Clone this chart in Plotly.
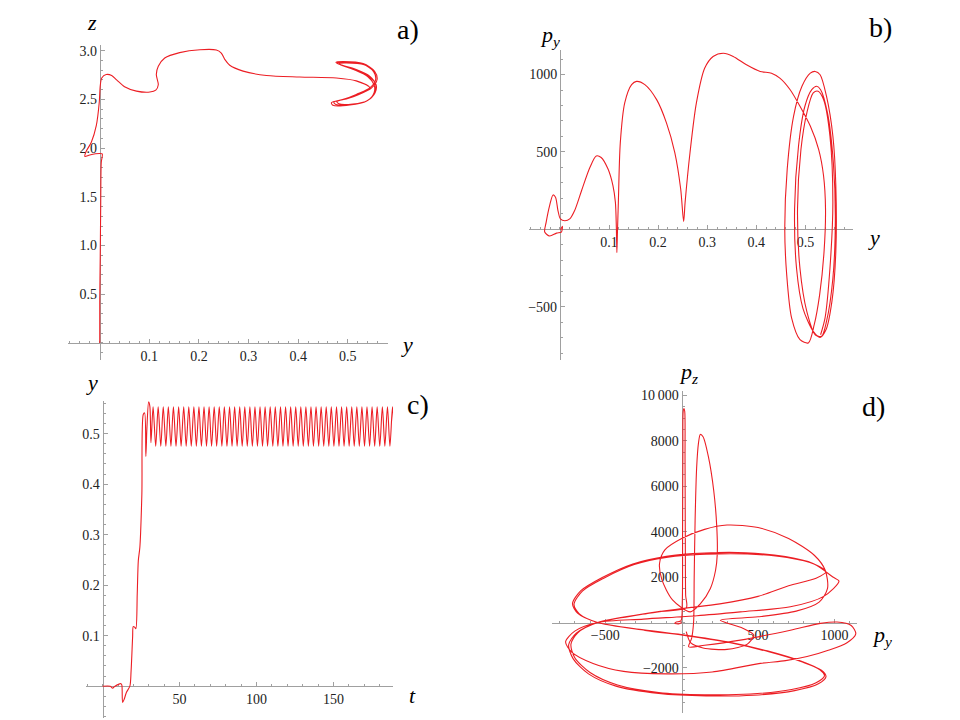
import plotly.graph_objects as go

LINE_COLOR = 'rgb(236, 30, 36)'
AXIS_COLOR = '#a0a0a0'
TICK_FONT = dict(family='Liberation Serif', size=14, color='#222222')
LABEL_FONT = dict(family='Liberation Serif', size=22, color='black')
PANEL_FONT = dict(family='Liberation Serif', size=28, color='black')
W, H = 960, 720

# ---- a) z versus y ----
a_y = [0, 0, 0.001, 0.002, 0.003, 0.005, 0, -0.020, -0.030, -0.028,
       -0.017, -0.007, -0.001, 0.001, 0.004, 0.013, 0.024, 0.034, 0.050, 0.074,
       0.101, 0.113, 0.118, 0.114, 0.118, 0.131, 0.161, 0.202, 0.235, 0.245,
       0.252, 0.262, 0.289, 0.336, 0.403, 0.477, 0.517, 0.544,
       0.517, 0.491, 0.467, 0.470, 0.504, 0.538, 0.554, 0.556, 0.544, 0.517,
       0.484, 0.476, 0.491, 0.531, 0.554, 0.559, 0.548,
       0.520, 0.497, 0.478, 0.482, 0.510, 0.540, 0.553, 0.553, 0.540, 0.515,
       0.490, 0.482, 0.497, 0.533, 0.552, 0.556, 0.546,
       0.518, 0.493, 0.472, 0.476, 0.507, 0.539, 0.555, 0.557, 0.542, 0.516,
       0.487, 0.479, 0.494, 0.532, 0.553]
a_z = [0, 0.425, 0.90, 1.45, 1.85, 1.94, 1.945, 1.93, 1.915, 1.96,
       2.06, 2.23, 2.47, 2.64, 2.72, 2.755, 2.745, 2.70, 2.63, 2.585,
       2.575, 2.595, 2.65, 2.755, 2.84, 2.925, 2.98, 3.01, 3.007, 2.976,
       2.91, 2.85, 2.79, 2.745, 2.73, 2.72, 2.69, 2.62,
       2.551, 2.500, 2.466, 2.439, 2.442, 2.483, 2.568, 2.653, 2.738, 2.806,
       2.857, 2.881, 2.888, 2.867, 2.789, 2.704, 2.619,
       2.545, 2.505, 2.478, 2.455, 2.452, 2.490, 2.570, 2.650, 2.735, 2.800,
       2.845, 2.868, 2.875, 2.855, 2.785, 2.700, 2.625,
       2.548, 2.502, 2.472, 2.447, 2.447, 2.487, 2.569, 2.652, 2.737, 2.803,
       2.851, 2.875, 2.882, 2.861, 2.787]

# ---- b) p_y versus y ----
b_y = [0.001, 0.005, 0.003, -0.007, -0.021, -0.031, -0.028, -0.021, -0.014, -0.009,
       -0.004, 0.001, 0.010, 0.020, 0.030, 0.044, 0.061, 0.074, 0.084, 0.098,
       0.108, 0.113, 0.115, 0.116, 0.117, 0.119, 0.123, 0.132, 0.146, 0.156,
       0.173, 0.197, 0.217, 0.234, 0.246, 0.252, 0.255, 0.265, 0.278, 0.295,
       0.312, 0.333, 0.353, 0.380, 0.408, 0.431, 0.448, 0.469, 0.489, 0.510,
       0.527, 0.537, 0.541, 0.538, 0.529, 0.518, 0.506, 0.489, 0.472, 0.462,
       0.458, 0.463, 0.476, 0.493, 0.510, 0.520, 0.530, 0.543, 0.556, 0.562,
       0.562, 0.554, 0.542, 0.530, 0.516, 0.495, 0.482, 0.478, 0.486, 0.499,
       0.513, 0.523, 0.531, 0.545, 0.557, 0.561, 0.556, 0.543, 0.533, 0.520,
       0.503, 0.489, 0.484, 0.491, 0.503, 0.516, 0.526, 0.537, 0.550, 0.556,
       0.550, 0.540, 0.531]
b_py = [-3, 20, -18, -25, -44, -18, 46, 153, 222, 207,
        121, 67, 55, 67, 121, 249, 399, 474, 464, 389,
        282, 174, 3, -151, -40, 174, 560, 817, 935, 956,
        935, 838, 688, 496, 260, 50, 174, 496, 817, 1042,
        1117, 1138, 1117, 1063, 1020, 1009, 977, 902, 795, 667,
        517, 346, 132, -146, -424, -617, -735, -714, -575, -296,
        3, 389, 731, 924, 1009, 1020, 999, 860, 603, 282,
        -146, -468, -650, -699, -660, -511, -254, 132, 538, 795,
        902, 924, 902, 753, 431, 67, -318, -596, -692, -682,
        -533, -254, 132, 517, 753, 881, 892, 838, 603, 174,
        -254, -575, -682]

# ---- c) y versus t ----
c_t_start = [0, 5, 6.5, 8, 11.9, 12.5, 13.0, 14.0, 15.5, 17.7,
             18.5, 19.5, 19.9, 20.8, 21.6, 22.5, 23.2, 24.2, 25.5, 26.4,
             27.3, 28.1, 28.8, 29.9, 30.7, 31.4]
c_y_start = [0, 0, -0.004, 0, 0.005, 0.002, -0.032, -0.026, -0.012, 0,
             0.03, 0.098, 0.118, 0.117, 0.114, 0.183, 0.249, 0.275, 0.38, 0.538,
             0.541, 0.455, 0.512, 0.563, 0.554, 0.482]
c_peak_t = [32.8, 36.1, 39.4, 42.7, 46.0, 49.4, 52.7, 56.0, 59.3, 62.6,
            65.9, 69.2, 72.5, 75.8, 79.1, 82.5, 85.8, 89.1, 92.4, 95.7,
            99.0, 102.3, 105.6, 108.9, 112.2, 115.6, 118.9, 122.2, 125.5, 128.8,
            132.1, 135.4, 138.7, 142.0, 145.3, 148.6, 152.0, 155.3, 158.6, 161.9,
            165.2, 168.5, 171.8, 175.1, 178.4, 181.8, 185.1, 188.4, 191.7, 195.0]
c_peak_y = [0.553, 0.553, 0.553, 0.553, 0.553, 0.553, 0.553, 0.553, 0.553, 0.553,
            0.553, 0.553, 0.553, 0.553, 0.553, 0.553, 0.553, 0.553, 0.553, 0.553,
            0.553, 0.553, 0.553, 0.553, 0.553, 0.553, 0.553, 0.553, 0.553, 0.553,
            0.553, 0.553, 0.553, 0.553, 0.553, 0.553, 0.553, 0.553, 0.553, 0.553,
            0.553, 0.553, 0.553, 0.553, 0.553, 0.553, 0.553, 0.553, 0.553, 0.553]
c_trough_t = [34.5, 37.8, 41.1, 44.4, 47.7, 51.0, 54.3, 57.6, 60.9, 64.2,
              67.5, 70.8, 74.1, 77.5, 80.8, 84.1, 87.4, 90.7, 94.0, 97.3,
              100.6, 103.9, 107.2, 110.6, 113.9, 117.2, 120.5, 123.8, 127.1, 130.4,
              133.7, 137.0, 140.4, 143.7, 147.0, 150.3, 153.6, 156.9, 160.2, 163.5,
              166.8, 170.2, 173.5, 176.8, 180.1, 183.4, 186.7, 190.0, 193.3]
c_trough_y = [0.475, 0.475, 0.475, 0.475, 0.475, 0.475, 0.475, 0.475, 0.475, 0.475,
              0.475, 0.475, 0.475, 0.475, 0.475, 0.475, 0.475, 0.475, 0.475, 0.475,
              0.475, 0.475, 0.475, 0.475, 0.475, 0.475, 0.475, 0.475, 0.475, 0.475,
              0.475, 0.475, 0.475, 0.475, 0.475, 0.475, 0.475, 0.475, 0.475, 0.475,
              0.475, 0.475, 0.475, 0.475, 0.475, 0.475, 0.475, 0.475, 0.475]

# ---- d) p_z versus p_y ----
d_py = [0, -20, -45, -35, -5, 4, 6, 8, 10, 15, 20, 22, 24, 26, 30,
        # lower lobe 1
        -150, -350, -550, -680, -725, -700, -600, -420, -150, 150,
        450, 720, 880, 935, 905, 780, 560, 300, 30, -250, -550,
        # upper lobe 1
        -680, -715, -660, -520, -320, -100, 150, 420, 680, 860,
        945, 880, 700, 500, 250, 0, -260, -550,
        # lower lobe 2
        -690, -740, -710, -610, -430, -150, 160, 470, 740, 895,
        945, 915, 790, 570, 310, 40, -240, -550,
        # upper lobe 2
        -670, -705, -650, -510, -310, -90, 160, 430, 690, 870,
        990, 1030, 930, 712, 384, 100, -250, -550,
        # thin lower lobe and right lobe
        -700, -760, -720, -580, -380, -100, 200, 515, 680, 821,
        960, 1080, 1140, 1110, 1017, 909, 712, 384, 150, 46,
        # tall loop
        65, 78, 82, 88, 98, 110, 122, 140, 175, 210,
        230, 233, 222, 188, 122, 57,
        # medium loop
        -60, -130, -145, -110, 0, 150, 297, 500, 700, 870,
        940, 955, 900, 750, 500, 253,
        # lower centre loop
        400, 472, 430, 297, 140, 60, 30]
d_pz = [0, -60, -35, 25, 70, 900, 4000, 7600, 9300, 9420, 9300, 7200, 3600, 1200, 650,
        480, 260, 0, -450, -950, -1550, -2200, -2750, -3080, -3180,
        -3150, -2950, -2650, -2350, -2080, -1700, -1250, -850, -560, -320, 0,
        400, 830, 1400, 1980, 2580, 2920, 3060, 3070, 2900, 2600,
        2230, 1950, 1620, 1150, 820, 610, 360, 0,
        -470, -980, -1600, -2260, -2800, -3120, -3230, -3200, -3000, -2700,
        -2380, -2100, -1740, -1290, -880, -590, -345, 0,
        380, 800, 1380, 1950, 2550, 2880, 3010, 3020, 2860, 2560,
        2000, 1820, 1150, 690, 470, 300, 150, 0,
        -380, -850, -1300, -1800, -2150, -2260, -2180, -1800, -1680, -1500,
        -1220, -900, -500, -130, 20, -40, -337, -775, -1000, -1068,
        -700, 0, 2000, 4500, 6800, 7900, 8280, 8180, 7300, 5800,
        4200, 3000, 2300, 1500, 820, 470,
        1000, 1900, 2600, 3200, 3700, 4100, 4290, 4180, 3700, 2950,
        2300, 1500, 900, 500, 250, 100,
        -250, -556, -950, -1183, -1120, -900, -400]

# join the regular oscillation of panel c onto its start-up part
c_osc = sorted(list(zip(c_peak_t, c_peak_y)) + list(zip(c_trough_t, c_trough_y)))
c_t = c_t_start + [p[0] for p in c_osc]
c_y = c_y_start + [p[1] for p in c_osc]

# panel boxes in pixels (left, right, top, bottom) and data ranges
PANELS = {
    'a': dict(box=(68, 388, 42, 358), xr=[-0.064, 0.581], yr=[-0.17, 3.06]),
    'b': dict(box=(529, 853, 47, 358), xr=[-0.063, 0.597], yr=[-842, 1160]),
    'c': dict(box=(86, 393, 400, 718), xr=[-10.8, 188.7], yr=[-0.063, 0.564]),
    'd': dict(box=(552, 857, 390, 713), xr=[-849, 1148], yr=[-3985, 10175]),
}


def zero_position(domain, rng):
    # paper coordinate at which the value 0 sits on an axis
    return domain[0] + (0 - rng[0]) / (rng[1] - rng[0]) * (domain[1] - domain[0])


def make_axis(domain, rng, vals, text, minor, pos):
    return dict(domain=domain, range=rng, anchor='free', position=pos,
                showline=True, linecolor=AXIS_COLOR, linewidth=1,
                showgrid=False, zeroline=False, layer='below traces',
                tickmode='array', tickvals=vals, ticktext=text,
                ticks='inside', ticklen=4, tickcolor=AXIS_COLOR,
                minor=dict(tickmode='linear', tick0=0, dtick=minor,
                           ticks='inside', ticklen=2, tickcolor=AXIS_COLOR),
                tickfont=TICK_FONT)


TICKS = {
    'a': dict(x=([0.1, 0.2, 0.3, 0.4, 0.5], ['0.1', '0.2', '0.3', '0.4', '0.5'], 0.02),
              y=([0.5, 1, 1.5, 2, 2.5, 3], ['0.5', '1.0', '1.5', '2.0', '2.5', '3.0'], 0.1)),
    'b': dict(x=([0.1, 0.2, 0.3, 0.4, 0.5], ['0.1', '0.2', '0.3', '0.4', '0.5'], 0.02),
              y=([-500, 500, 1000], ['\u2212500', '500', '1000'], 100)),
    'c': dict(x=([50, 100, 150], ['50', '100', '150'], 10),
              y=([0.1, 0.2, 0.3, 0.4, 0.5], ['0.1', '0.2', '0.3', '0.4', '0.5'], 0.02)),
    'd': dict(x=([-500, 500, 1000], ['\u2212500', '500', '1000'], 100),
              y=([-2000, 2000, 4000, 6000, 8000, 10000],
                 ['\u22122000', '2000', '4000', '6000', '8000', '10\u2009000'], 500)),
}

DATA = {'a': (a_y, a_z), 'b': (b_y, b_py), 'c': (c_t, c_y), 'd': (d_py, d_pz)}

fig = go.Figure()
layout = {}
for i, key in enumerate(['a', 'b', 'c', 'd']):
    n = '' if i == 0 else str(i + 1)
    p = PANELS[key]
    left, right, top, bottom = p['box']
    xdom = [left / W, right / W]
    ydom = [1 - bottom / H, 1 - top / H]
    xs, ys = DATA[key]
    fig.add_trace(go.Scatter(x=xs, y=ys, mode='lines', xaxis='x' + n, yaxis='y' + n,
                             line=dict(color=LINE_COLOR, width=1.1, shape='spline', smoothing=0.8),
                             hoverinfo='skip'))
    tx, ty = TICKS[key]['x'], TICKS[key]['y']
    layout['xaxis' + n] = make_axis(xdom, p['xr'], tx[0], tx[1], tx[2], zero_position(ydom, p['yr']))
    layout['yaxis' + n] = make_axis(ydom, p['yr'], ty[0], ty[1], ty[2], zero_position(xdom, p['xr']))

# axis names and panel letters (pixel positions)
labels = [
    ('a)', 408, 27, PANEL_FONT), ('b)', 880, 25, PANEL_FONT),
    ('c)', 418, 403, PANEL_FONT), ('d)', 873, 405, PANEL_FONT),
    ('<i>z</i>', 92, 20, LABEL_FONT), ('<i>y</i>', 407, 343, LABEL_FONT),
    ('<i>p</i><sub><i>y</i></sub>', 550, 33, LABEL_FONT), ('<i>y</i>', 874, 235, LABEL_FONT),
    ('<i>y</i>', 92, 381, LABEL_FONT), ('<i>t</i>', 412, 695, LABEL_FONT),
    ('<i>p</i><sub><i>z</i></sub>', 688, 372, LABEL_FONT),
    ('<i>p</i><sub><i>y</i></sub>', 882, 636, LABEL_FONT),
]
annotations = [dict(text=t, x=x / W, y=1 - y / H, xref='paper', yref='paper',
                    showarrow=False, xanchor='center', yanchor='middle', font=f)
               for t, x, y, f in labels]

fig.update_layout(width=W, height=H, margin=dict(l=0, r=0, t=0, b=0),
                  paper_bgcolor='white', plot_bgcolor='white',
                  font=TICK_FONT, showlegend=False, annotations=annotations, **layout)

# drop the page's default body margin so the figure sits at the window corner
fig.write_html('out.html', config={'displayModeBar': False},
               post_script="document.body.style.margin='0';document.body.style.overflow='hidden';")
